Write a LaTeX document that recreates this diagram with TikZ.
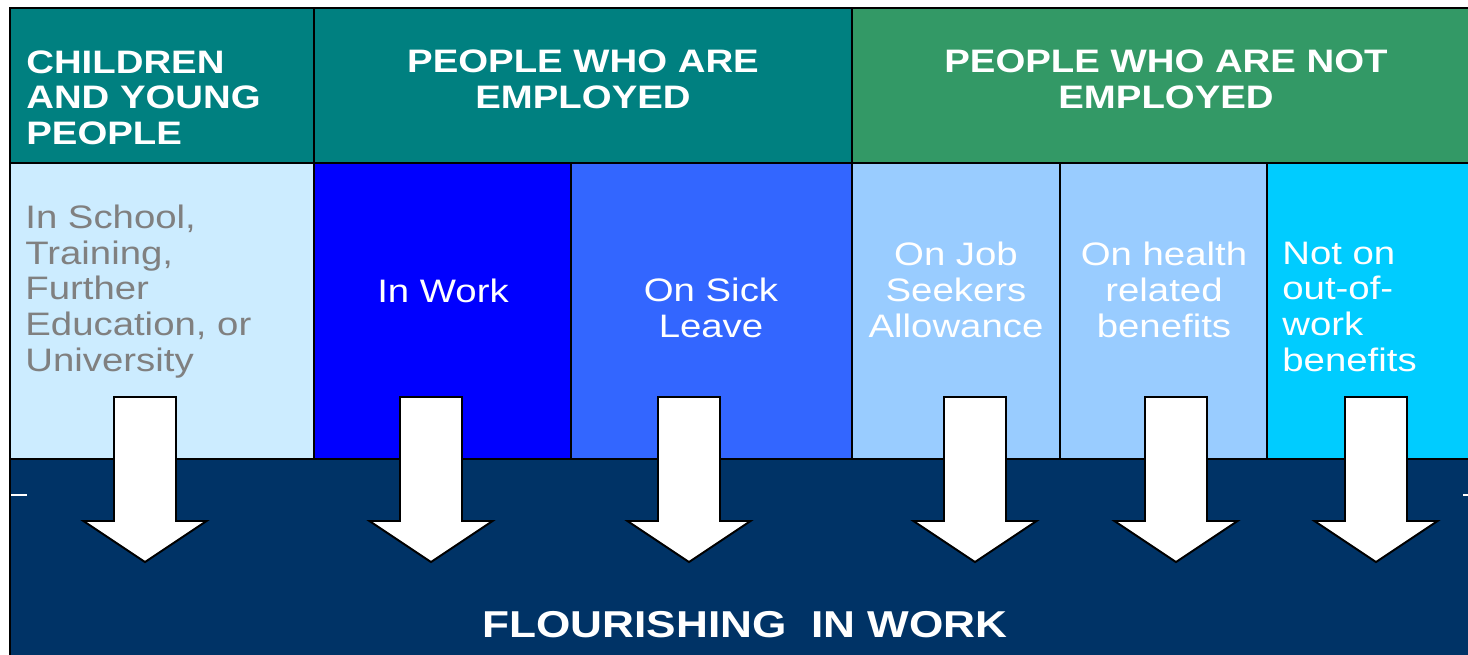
\documentclass[tikz,border=0pt]{standalone}
\usepackage{fontspec}
\setmainfont[FakeStretch=1.18]{Liberation Sans}
\usepackage{xcolor}
\definecolor{HeadTeal}{HTML}{008080}
\definecolor{HeadGreen}{HTML}{339966}
\definecolor{PaleSky}{HTML}{CCECFF}
\definecolor{PureBlue}{HTML}{0000FF}
\definecolor{MidBlue}{HTML}{3366FF}
\definecolor{SoftBlue}{HTML}{99CCFF}
\definecolor{BrightCyan}{HTML}{00CCFF}
\definecolor{DeepNavy}{HTML}{003366}
\usepackage{tikz}

\begin{document}
\begin{tikzpicture}[
x=0.02cm, y=-0.02cm,
cell/.style={draw=black, line width=1.1pt},
head/.style={inner sep=0pt, text=white, font=\fontsize{18.5}{20.2}\selectfont\bfseries},
body/.style={inner sep=0pt, text=white, font=\fontsize{18.5}{20.3}\selectfont},
bigarrow/.style={draw=black, line width=1.1pt, fill=white, line join=miter}
]
\clip (0,0) rectangle (1468,654);
% group headers
\draw[cell, fill=HeadTeal] (10,8) rectangle (314,163);
\draw[cell, fill=HeadTeal] (314,8) rectangle (852,163);
\draw[cell, fill=HeadGreen] (852,8) rectangle (1480,163);
% status columns
\foreach \xa/\xb/\col in {10/314/PaleSky, 314/571/PureBlue, 571/852/MidBlue,
    852/1060/SoftBlue, 1060/1267/SoftBlue, 1267/1480/BrightCyan}
  \draw[cell, fill=\col] (\xa,163) rectangle (\xb,459);
% bottom band
\draw[cell, fill=DeepNavy] (10,459) rectangle (1480,670);
\draw[white, line width=0.6pt] (11,495) -- (27,495) (1463,495) -- (1468,495);

% one down arrow per column
\foreach \cx in {145,431,689,975,1176,1376}
  \draw[bigarrow] (\cx-31,397) -- (\cx+31,397) -- (\cx+31,521) -- (\cx+61.5,521)
    -- (\cx,562) -- (\cx-61.5,521) -- (\cx-31,521) -- cycle;

% multi-line nodes sit on the baseline of their last line
\node[head, align=left, anchor=base west] (kids) at (26,144) {CHILDREN\\AND YOUNG\\PEOPLE};
\node[head, align=center, anchor=base] (employed) at (583,108) {PEOPLE WHO ARE\\EMPLOYED};
\node[head, align=center, anchor=base] (notemployed) at (1166,108) {PEOPLE WHO ARE NOT\\EMPLOYED};

\node[body, text=gray, align=left, anchor=base west] (study) at (25,371)
  {In School,\\Training,\\Further\\Education, or\\University};
\node[body, anchor=base] (inwork) at (443,302) {In Work};
\node[body, align=center, anchor=base] (sick) at (711,337) {On Sick\\Leave};
\node[body, align=center, anchor=base] (jsa) at (956,337) {On Job\\Seekers\\Allowance};
\node[body, align=center, anchor=base] (health) at (1164,337) {On health\\related\\benefits};
\node[body, align=left, anchor=base west] (nobenefit) at (1282,371) {Not on\\out-of-\\work\\benefits};

\node[inner sep=0pt, text=white, font=\fontsize{21.3}{24}\selectfont\bfseries, anchor=base]
  (flourish) at (745,637) {FLOURISHING~~IN WORK};
\end{tikzpicture}
\end{document}
